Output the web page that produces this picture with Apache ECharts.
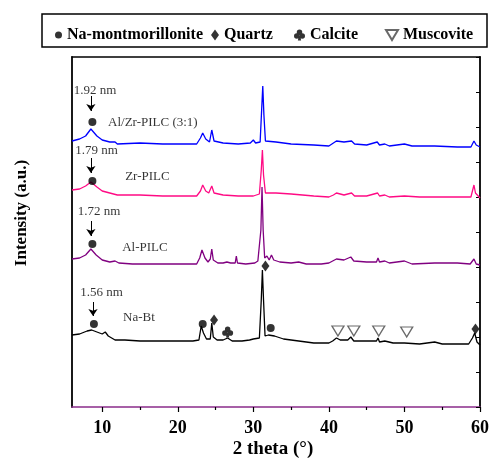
<!DOCTYPE html>
<html>
<head>
<meta charset="utf-8">
<script src="https://cdn.jsdelivr.net/npm/echarts@6/dist/echarts.min.js"></script>
<style>
  html, body { margin: 0; padding: 0; background: #fff; }
  #chart { width: 492px; height: 459px; }
</style>
</head>
<body>
<div id="chart"></div>
<script>
// XRD patterns: [2θ (°), intensity (a.u., stacked)]
const naBt = [
  [6.0,72],[7.0,73],[8.0,76],[8.6,77],[9.3,75],[10.0,73],[10.4,75],[10.8,71],[11.7,67],[13,67],
  [15,66],[18,66],[20,66],[22,66],[22.8,67],[23.1,81],[23.4,74],[23.8,68],[24.3,68],[24.5,84],
  [24.7,70],[25.2,67],[26.0,67],[26.6,69],[27.2,66],[28.5,66],[29.5,67],[30.0,68],[30.8,69],
  [31.05,107],[31.2,137],[31.35,107],[31.55,71],[32.0,72],[32.2,74],[32.8,71],[34,68],[36,66],
  [38,64],[40,64],[40.5,66],[41.0,69],[41.5,67],[42.5,67],[42.9,70],[43.3,66],[45,66],[46.3,66],
  [46.5,69],[46.7,65],[47.4,66],[48.5,64],[50,64],[52,63],[54,65],[55,63],[58.5,63],[59.0,69],
  [59.3,74],[59.6,65],[60,62]
];
const alPilc = [
  [6.0,148],[7.0,149],[7.8,152],[8.5,158],[9.2,152],[10,147],[11,145],[11.7,146],[12.2,144],[14,143],
  [18,143],[22.5,143],[22.9,149],[23.2,157],[23.6,149],[24.0,145],[24.3,148],[24.5,158],[24.7,147],
  [25.3,144],[26,144],[26.5,145],[27.0,144],[27.6,144],[27.75,151],[27.9,144],[29,143],[30.2,144],
  [30.6,146],[31.0,177],[31.15,220],[31.3,177],[31.5,149],[31.8,151],[32.1,147],[32.4,152],[32.7,147],
  [33.5,145],[35,144],[36,145],[37,143],[39,143],[40,144],[40.5,146],[41,148],[42,147],[42.9,150],
  [43.3,146],[45,145],[46.3,145],[46.5,149],[46.7,145],[47.4,146],[48,144],[50,146],[51,143],[54,144],
  [57,144],[58.7,143],[59.2,148],[59.5,143],[60,142]
];
const zrPilc = [
  [6.0,217],[7,218],[7.8,221],[8.5,225],[9.3,220],[10,216],[11,214],[12,212],[15,212],[18,211],
  [22.5,211],[23.0,216],[23.3,222],[23.7,216],[24.1,214],[24.5,221],[24.8,214],[26,212],[28,211],
  [30,211],[30.8,213],[31.05,237],[31.2,257],[31.35,232],[31.6,214],[33,214],[35,213],[38,211],
  [40,210],[40.6,212],[41.0,214],[42,212],[43.0,214],[43.4,211],[45,211],[46.45,214],[46.7,211],
  [47.4,212],[48,210],[50,211],[52,210],[56,210],[58.8,210],[59.2,222],[59.4,214],[60,209]
];
const alZrPilc = [
  [6.0,266],[7,268],[7.8,271],[8.5,278],[9.3,271],[10,267],[11,265],[11.7,265],[12,263],[15,264],
  [18,263],[20,263],[22.5,263],[23.0,269],[23.3,274],[23.7,268],[24.2,265],[24.5,277],[24.8,266],
  [26,264],[28,263],[29.6,264],[30.0,267],[30.3,264],[30.9,265],[31.1,297],[31.25,321],[31.4,292],
  [31.6,266],[33,265],[35,263],[38,262],[40,261],[40.6,264],[41.0,266],[42,265],[43.0,266],[43.4,263],
  [45,262],[46.4,265],[46.7,262],[47.4,263],[48,261],[50,263],[51,261],[54,261],[57,260],[58.8,260],
  [59.2,266],[59.5,262],[60,260]
];

// Phase markers placed over the reflections
const montmorilloniteAt = [[8.7,285],[8.7,226],[8.7,163],[8.9,83],[23.3,83],[32.3,79]];
const quartzAt = [[24.8,87],[31.6,141],[59.4,78]];
const calciteAt = [[26.6,75]];
const muscoviteAt = [[41.2,76],[43.3,76],[46.6,76],[50.3,75]];

// Basal spacing notes and sample names
const noteTexts = ['1.92 nm','Al/Zr-PILC (3:1)','1.79 nm','Zr-PILC','1.72 nm','Al-PILC','1.56 nm','Na-Bt'];
const noteAt = [[9.04,316],[16.7,284],[9.24,256],[15.98,230],[9.57,195],[15.65,159],[9.9,114],[14.86,89]];
// d001 arrows: [2θ, from, to]
const arrowsAt = [[8.5,311,296],[8.5,249,234],[8.5,186,171],[8.78,105,91]];

const xTicks = [10,20,30,40,50,60];
const xMinorTicks = [15,25,35,45,55];
const legendNames = ['Na-montmorillonite','Quartz','Calcite','Muscovite'];

const FONT = '"Liberation Serif", "Times New Roman", serif';
const clubPath = 'path://M2.5,2.7 a2.5,2.5 0 1,0 5,0 a2.5,2.5 0 1,0 -5,0 Z M0,6 a2.5,2.5 0 1,0 5,0 a2.5,2.5 0 1,0 -5,0 Z M5,6 a2.5,2.5 0 1,0 5,0 a2.5,2.5 0 1,0 -5,0 Z M4.4,6 L3.5,10 L6.5,10 L5.6,6 Z';
const triDownPath = 'path://M0,0 L12,0 L6,10 Z';

const chart = echarts.init(document.getElementById('chart'), null, { renderer: 'canvas' });

function pattern(name, data, color) {
  return {
    name, type: 'line', data, showSymbol: false, symbol: 'none',
    lineStyle: { color, width: 1.3 }, itemStyle: { color },
    z: 2, silent: true
  };
}

function markers(name, data, symbol, size, style) {
  return {
    name, type: 'scatter', data, symbol, symbolSize: size,
    itemStyle: style, z: 5, silent: true
  };
}

const legendLeft = [50, 206, 289, 380];
const legendIcon = [[7,7],[8,11],[11,11],[12,10]];

chart.setOption({
  animation: false,
  backgroundColor: '#fff',
  grid: { left: 72, right: 11, top: 57, bottom: 52 },
  legend: legendNames.map((n, i) => ({
    data: [n], left: legendLeft[i], top: 22, selectedMode: false,
    itemWidth: legendIcon[i][0], itemHeight: legendIcon[i][1],
    textStyle: { fontFamily: FONT, fontWeight: 'bold', fontSize: 16, color: '#000' }
  })),
  xAxis: [
    {
      type: 'value', min: 6, max: 60, position: 'bottom',
      axisLine: { show: true, lineStyle: { color: '#8b2c8b', width: 1.6 } },
      axisTick: { show: true, customValues: xTicks, length: 5, inside: false, lineStyle: { color: '#000', width: 1.2 } },
      axisLabel: { show: true, customValues: xTicks, margin: 12, fontFamily: FONT, fontWeight: 'bold', fontSize: 18, color: '#000' },
      splitLine: { show: false }
    },
    {
      type: 'value', min: 6, max: 60, position: 'bottom',
      axisLine: { show: false },
      axisTick: { show: true, customValues: xMinorTicks, length: 3, lineStyle: { color: '#000', width: 1.2 } },
      axisLabel: { show: false },
      splitLine: { show: false }
    },
    {
      type: 'value', min: 6, max: 60, position: 'top',
      axisLine: { show: true, lineStyle: { color: '#000', width: 1.5 } },
      axisTick: { show: false }, axisLabel: { show: false }, splitLine: { show: false }
    }
  ],
  yAxis: [
    {
      type: 'value', min: 0, max: 350, interval: 35, position: 'left',
      axisLine: { show: true, lineStyle: { color: '#000', width: 1.8 } },
      axisTick: { show: false }, axisLabel: { show: false }, splitLine: { show: false }
    },
    {
      type: 'value', min: 0, max: 350, interval: 35, position: 'right',
      axisLine: { show: true, lineStyle: { color: '#000', width: 1.8 } },
      axisTick: { show: true, inside: true, length: 4, lineStyle: { color: '#000', width: 1 } },
      axisLabel: { show: false }, splitLine: { show: false }
    }
  ],
  graphic: [
    { type: 'rect', shape: { x: 42, y: 14, width: 445, height: 33 },
      style: { fill: 'none', stroke: '#000', lineWidth: 1.5 }, silent: true },
    { type: 'text', x: 22, y: 213, rotation: Math.PI / 2,
      style: { text: 'Intensity (a.u.)', font: 'bold 17px ' + FONT, fill: '#000', align: 'center', verticalAlign: 'middle' } },
    { type: 'text', x: 273, y: 449,
      style: { text: '2 theta (°)', font: 'bold 19px ' + FONT, fill: '#000', align: 'center', verticalAlign: 'middle' } }
  ],
  series: [
    pattern('Na-Bt', naBt, '#000000'),
    pattern('Al-PILC', alPilc, '#800080'),
    pattern('Zr-PILC', zrPilc, '#ff0a84'),
    pattern('Al/Zr-PILC (3:1)', alZrPilc, '#0000ff'),
    markers('Na-montmorillonite', montmorilloniteAt, 'circle', 8, { color: '#000' }),
    markers('Quartz', quartzAt, 'diamond', [8, 11], { color: '#000' }),
    markers('Calcite', calciteAt, clubPath, 11, { color: '#000' }),
    markers('Muscovite', muscoviteAt, triDownPath, [12, 10], { color: '#fff', borderColor: '#444', borderWidth: 1.3 }),
    {
      name: 'notes', type: 'scatter', symbolSize: 1, silent: true, z: 6,
      itemStyle: { color: 'rgba(0,0,0,0)' },
      data: noteTexts.map((t, i) => ({ value: noteAt[i], label: { formatter: t } })),
      label: { show: true, position: 'inside', fontFamily: FONT, fontSize: 13, color: '#000' },
      markLine: {
        silent: true, symbol: ['none', 'arrow'], symbolSize: 7, animation: false,
        lineStyle: { color: '#000', width: 1, type: 'solid' },
        label: { show: false },
        data: arrowsAt.map(a => [{ coord: [a[0], a[1]] }, { coord: [a[0], a[2]] }])
      }
    }
  ]
});
</script>
</body>
</html>
